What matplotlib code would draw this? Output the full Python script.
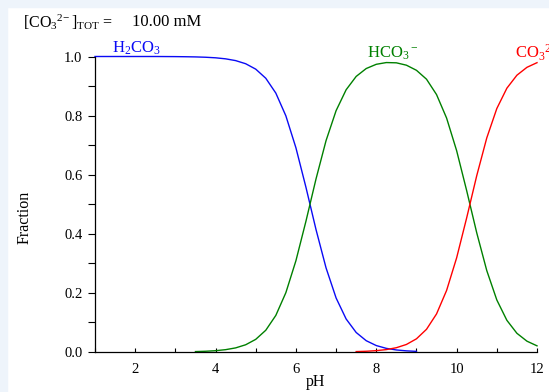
import matplotlib
matplotlib.use('Agg')
import matplotlib.pyplot as plt
from matplotlib.patches import Rectangle
from matplotlib.ticker import MultipleLocator

# === Данные: доли форм карбоната ===
ph_h2co3 = [1.0, 1.25, 1.5, 1.75, 2.0, 2.25, 2.5, 2.75, 3.0, 3.25, 3.5, 3.75,
            4.0, 4.25, 4.5, 4.75, 5.0, 5.25, 5.5, 5.75, 6.0, 6.25, 6.5, 6.75,
            7.0, 7.25, 7.5, 7.75, 8.0, 8.25, 8.5, 8.75, 9.0]
frac_h2co3 = [1.0, 1.0, 1.0, 1.0, 1.0, 1.0, 1.0, 0.9998, 0.9996, 0.9992, 0.9986, 0.9975,
              0.9956, 0.9921, 0.9861, 0.9755, 0.9572, 0.9264, 0.8762, 0.7992, 0.6912, 0.5573,
              0.4145, 0.2847, 0.1829, 0.1117, 0.0660, 0.0382, 0.0218, 0.0123, 0.0069, 0.0039,
              0.0021]

ph_hco3 = [3.5, 3.75, 4.0, 4.25, 4.5, 4.75, 5.0, 5.25, 5.5, 5.75, 6.0, 6.25, 6.5,
           6.75, 7.0, 7.25, 7.5, 7.75, 8.0, 8.25, 8.5, 8.75, 9.0, 9.25, 9.5, 9.75,
           10.0, 10.25, 10.5, 10.75, 11.0, 11.25, 11.5, 11.75, 12.0]
frac_hco3 = [0.0014, 0.0025, 0.0044, 0.0079, 0.0139, 0.0245, 0.0428, 0.0736, 0.1238,
             0.2008, 0.3088, 0.4427, 0.5855, 0.7153, 0.8167, 0.8875, 0.9326, 0.9593,
             0.9736, 0.9795, 0.9786, 0.9706, 0.9533, 0.9232, 0.8711, 0.7917, 0.6813,
             0.5459, 0.4034, 0.2755, 0.1761, 0.1073, 0.0633, 0.0366, 0.0209]

ph_co3 = [7.5, 7.75, 8.0, 8.25, 8.5, 8.75, 9.0, 9.25, 9.5, 9.75, 10.0, 10.25,
          10.5, 10.75, 11.0, 11.25, 11.5, 11.75, 12.0]
frac_co3 = [0.0014, 0.0025, 0.0046, 0.0081, 0.0145, 0.0255, 0.0446, 0.0768, 0.1289,
            0.2083, 0.3187, 0.4541, 0.5966, 0.7245, 0.8239, 0.8927, 0.9367, 0.9634,
            0.9791]

x_ticks = [2, 4, 6, 8, 10, 12]
y_ticks = [0.0, 0.2, 0.4, 0.6, 0.8, 1.0]

# === Шрифты ===
plt.rcParams['font.family'] = ['Liberation Serif', 'DejaVu Serif']
plt.rcParams['mathtext.fontset'] = 'custom'
plt.rcParams['mathtext.rm'] = 'Liberation Serif'
plt.rcParams['mathtext.it'] = 'Liberation Serif:italic'
plt.rcParams['mathtext.default'] = 'rm'

W, H = 549, 392
fig = plt.figure(figsize=(W / 100, H / 100), dpi=100)

# светлая рамка сверху и слева, как на скриншоте
fig.patches.append(Rectangle((0, 0), 7 / W, 1, transform=fig.transFigure,
                             color='#eef4fb', zorder=0))
fig.patches.append(Rectangle((0, 1 - 7 / H), 1, 7 / H, transform=fig.transFigure,
                             color='#eef4fb', zorder=0))

ax = fig.add_axes([95 / W, 1 - 352 / H, 442 / W, 295.5 / H])
ax.plot(ph_h2co3, frac_h2co3, color='#0a0af5', lw=1.0, clip_on=False)
ax.plot(ph_hco3, frac_hco3, color='#008000', lw=1.0, clip_on=False)
ax.plot(ph_co3, frac_co3, color='#ff0000', lw=1.0, clip_on=False)

ax.set_xlim(1, 12)
ax.set_ylim(0, 1.0)
for s in ['top', 'right']:
    ax.spines[s].set_visible(False)
for s in ['left', 'bottom']:
    ax.spines[s].set_linewidth(0.9)

ax.set_xticks(x_ticks)
ax.set_xticklabels([str(t) for t in x_ticks])
ax.xaxis.set_minor_locator(MultipleLocator(1))
ax.set_yticks(y_ticks)
ax.set_yticklabels([f'{t:.1f}' for t in y_ticks])
ax.yaxis.set_minor_locator(MultipleLocator(0.1))
ax.tick_params(axis='x', which='both', direction='in', length=3, width=0.8,
               pad=8, labelsize=10.5)
ax.tick_params(axis='y', which='both', direction='out', length=5, width=0.8,
               pad=4, labelsize=10.5)

# подписи
fig.text(316 / W, 1 - 382 / H, 'pH', ha='center', va='center', fontsize=11.5)
fig.text(25 / W, 1 - 217 / H, 'Fraction', ha='center', va='center',
         rotation=90, fontsize=11.5)
fig.text(23 / W, 1 - 22 / H, r'[CO$_3$$^{2\!-}$]$_{\rm TOT}$ =', ha='left',
         va='center', fontsize=11.5)
fig.text(132 / W, 1 - 22 / H, '10.00 mM', ha='left', va='center', fontsize=12)

fig.text(112 / W, 1 - 53 / H, r'H$_2$CO$_3$', color='#0a0af5', ha='left',
         va='baseline', fontsize=12)
fig.text(367 / W, 1 - 58 / H, r'HCO$_3$$^-$', color='#008000', ha='left',
         va='baseline', fontsize=12)
# в оригинале подпись обрезана правым краем
fig.text(515 / W, 1 - 58 / H, r'CO$_3$$^{2-}$', color='#ff0000', ha='left',
         va='baseline', fontsize=12)

plt.savefig('out.png', dpi=100)
